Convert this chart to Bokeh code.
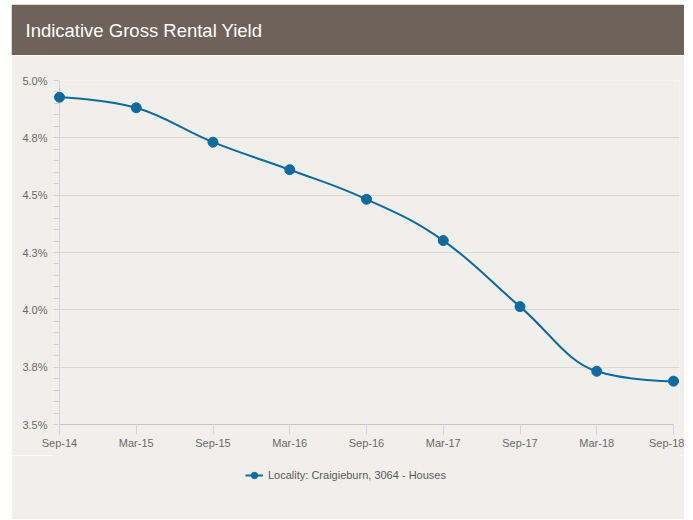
from bokeh.plotting import figure
from bokeh.models import (Range1d, FixedTicker, Legend, LegendItem, ColumnDataSource, Title, Span)
from bokeh.layouts import column
from bokeh.embed import file_html
from bokeh.resources import INLINE

# ---- data ----
title_text = "Indicative Gross Rental Yield"
series_name = "Locality: Craigieburn, 3064 - Houses"
categories = ["Sep-14", "Mar-15", "Sep-15", "Mar-16", "Sep-16", "Mar-17", "Sep-17", "Mar-18", "Sep-18"]
yield_pct = [4.927, 4.881, 4.731, 4.611, 4.482, 4.302, 4.014, 3.732, 3.689]
y_ticks = [3.5, 3.75, 4.0, 4.25, 4.5, 4.75, 5.0]
y_tick_labels = ["3.5%", "3.8%", "4.0%", "4.3%", "4.5%", "4.8%", "5.0%"]

# ---- style ----
BROWN = "#6E6259"
PANEL = "#F0EFEB"
LINE = "#0F6A9E"
AXIS = "#CDD3DB"
FONT = "Liberation Sans"
W = 673
BL, BR = 42, 5          # frame widened 6px each side so end markers are not clipped
PAD = 6 / 76.75         # the same 6px expressed in category units


def bare(fig, color):
    fig.axis.visible = False
    fig.grid.visible = False
    fig.outline_line_color = color
    fig.outline_line_width = 2
    fig.background_fill_color = color
    fig.border_fill_color = color


# ---- header band with title ----
header = figure(width=W, height=51, output_backend="svg", toolbar_location=None,
                min_border_left=BL, min_border_right=BR, min_border_top=0, min_border_bottom=0)
bare(header, BROWN)
header.add_layout(Title(text=title_text, align="left", offset=-28, standoff=5,
                        text_color="#FFFFFF", text_font=FONT, text_font_size="18.5px",
                        text_font_style="normal",
                        padding=dict(left=0, right=0, top=11, bottom=0)), "above")

# ---- main chart ----
xs = list(range(len(categories)))
n_last = len(categories) - 1
p = figure(width=W, height=400, output_backend="svg", toolbar_location=None,
           x_range=Range1d(-PAD, n_last + PAD), y_range=Range1d(y_ticks[0], y_ticks[-1]),
           min_border_left=BL, min_border_right=BR, min_border_top=25, min_border_bottom=31)
p.background_fill_color = PANEL
p.border_fill_color = PANEL
p.outline_line_color = None


# Highcharts-like spline control points
def spline(xv, yv, smoothing=1.5):
    denom = smoothing + 1
    n = len(xv)
    left = [(xv[i], yv[i]) for i in range(n)]
    right = [(xv[i], yv[i]) for i in range(n)]
    for i in range(1, n - 1):
        px, py = xv[i], yv[i]
        lx, ly = xv[i - 1], yv[i - 1]
        nx, ny = xv[i + 1], yv[i + 1]
        lcx = (smoothing * px + lx) / denom
        lcy = (smoothing * py + ly) / denom
        rcx = (smoothing * px + nx) / denom
        rcy = (smoothing * py + ny) / denom
        if rcx != lcx:
            corr = ((rcy - lcy) * (rcx - px)) / (rcx - lcx) + py - rcy
            lcy += corr
            rcy += corr
        if lcy > ly and lcy > py:
            lcy = max(ly, py); rcy = 2 * py - lcy
        elif lcy < ly and lcy < py:
            lcy = min(ly, py); rcy = 2 * py - lcy
        if rcy > ny and rcy > py:
            rcy = max(ny, py); lcy = 2 * py - rcy
        elif rcy < ny and rcy < py:
            rcy = min(ny, py); lcy = 2 * py - rcy
        left[i] = (lcx, lcy)
        right[i] = (rcx, rcy)
    d = dict(x0=[], y0=[], x1=[], y1=[], cx0=[], cy0=[], cx1=[], cy1=[])
    for i in range(1, n):
        d["x0"].append(xv[i - 1]); d["y0"].append(yv[i - 1])
        d["x1"].append(xv[i]); d["y1"].append(yv[i])
        d["cx0"].append(right[i - 1][0]); d["cy0"].append(right[i - 1][1])
        d["cx1"].append(left[i][0]); d["cy1"].append(left[i][1])
    return d


p.xgrid.grid_line_color = None
p.ygrid.grid_line_color = "#D8D8D5"
p.ygrid.ticker = FixedTicker(ticks=y_ticks)

# y axis line at the first category (under the series)
p.add_layout(Span(location=xs[0], dimension="height", line_color=AXIS, line_width=1, level="underlay"))

curve_src = spline(xs, yield_pct)
p.bezier(x0="x0", y0="y0", x1="x1", y1="y1", cx0="cx0", cy0="cy0", cx1="cx1", cy1="cy1",
         source=ColumnDataSource(curve_src), line_color=LINE, line_width=2)
p.scatter(xs, yield_pct, size=10, color=LINE, marker="circle")

# x axis (limited to the category span)
p.xaxis.bounds = (0, n_last)
p.xaxis.ticker = FixedTicker(ticks=xs)
p.xaxis.major_label_overrides = {i: c for i, c in enumerate(categories)}
p.xaxis.axis_line_color = "#C4C4C4"
p.xaxis.major_tick_line_color = "#CCD6EB"
p.xaxis.major_tick_out = 10
p.xaxis.major_tick_in = 0
p.xaxis.minor_tick_line_color = None
p.xaxis.major_label_standoff = 2
p.xaxis.major_label_text_font = FONT
p.xaxis.major_label_text_font_size = "11px"
p.xaxis.major_label_text_color = "#6A6A6A"

# y axis: ticks reach in to the axis line at the first category
minor = []
for a, b in zip(y_ticks[:-1], y_ticks[1:]):
    for k in range(1, 5):
        minor.append(a + (b - a) * k / 5)
p.yaxis.ticker = FixedTicker(ticks=y_ticks, minor_ticks=minor)
p.yaxis.major_label_overrides = {t: l for t, l in zip(y_ticks, y_tick_labels)}
p.yaxis.axis_line_color = None
p.yaxis.major_tick_line_color = AXIS
p.yaxis.minor_tick_line_color = AXIS
p.yaxis.major_tick_out = 0
p.yaxis.major_tick_in = 5
p.yaxis.minor_tick_out = 0
p.yaxis.minor_tick_in = 6
p.yaxis.major_label_standoff = 6
p.yaxis.major_label_text_font = FONT
p.yaxis.major_label_text_font_size = "11px"
p.yaxis.major_label_text_color = "#6A6A6A"

# ---- legend strip (series drawn out of view, only its legend entry shows) ----
lg = figure(width=W, height=64, output_backend="svg", toolbar_location=None,
            x_range=Range1d(-PAD, n_last + PAD), y_range=Range1d(0, 1),
            min_border_left=BL, min_border_right=BR, min_border_top=0, min_border_bottom=0)
bare(lg, PANEL)
lc = lg.bezier(x0="x0", y0="y0", x1="x1", y1="y1", cx0="cx0", cy0="cy0", cx1="cx1", cy1="cy1",
               source=ColumnDataSource(curve_src), line_color=LINE, line_width=2)
lp = lg.scatter(xs, yield_pct, size=10, color=LINE, marker="circle")
legend = Legend(items=[LegendItem(label=series_name, renderers=[lc, lp])],
                location=(192, 36), orientation="horizontal",
                padding=0, margin=0, spacing=0,
                glyph_width=18, glyph_height=16, label_standoff=5,
                label_text_font=FONT, label_text_font_size="11px",
                label_text_color="#5A5A5A",
                background_fill_alpha=0, border_line_color=None)
lg.add_layout(legend)

layout = column(header, p, lg, spacing=0, margin=(4, 0, 0, 11))
open("out.html", "w").write(file_html(layout, INLINE))
